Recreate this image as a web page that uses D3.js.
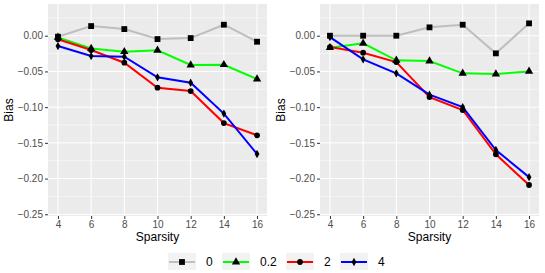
<!DOCTYPE html>
<html>
<head>
<meta charset="utf-8">
<script src="https://cdn.jsdelivr.net/npm/d3@7"></script>
<style>
  body { margin: 0; background: #fff; }
  svg { display: block; font-family: "Liberation Sans", Arial, sans-serif; }
</style>
</head>
<body>
<svg id="chart" width="545" height="273"></svg>
<script>
// sparsity levels on the x axis
const sparsity = [4, 6, 8, 10, 12, 14, 16];
const groups = ["0", "0.2", "2", "4"];

// left panel
const leftBias = {
  "0":   [-0.0014, 0.0135, 0.0093, -0.0047, -0.0033, 0.0154, -0.0084],
  "0.2": [-0.0023, -0.018, -0.0224, -0.0205, -0.041, -0.0406, -0.0607],
  "2":   [-0.005, -0.020, -0.0378, -0.0728, -0.0775, -0.1223, -0.1394],
  "4":   [-0.0145, -0.0285, -0.0294, -0.0583, -0.0658, -0.109, -0.1656]
};
// right panel
const rightBias = {
  "0":   [0.0, 0.0, 0.0, 0.0117, 0.0154, -0.0247, 0.0173],
  "0.2": [-0.0168, -0.0107, -0.0345, -0.0355, -0.0527, -0.0537, -0.050],
  "2":   [-0.0159, -0.0238, -0.0369, -0.0859, -0.104, -0.166, -0.209],
  "4":   [-0.0019, -0.0331, -0.0527, -0.0826, -0.0999, -0.160, -0.198]
};
const yTicks = [0, -0.05, -0.10, -0.15, -0.20, -0.25];

const colors = { "0": "#bebebe", "0.2": "#00ff00", "2": "#ff0000", "4": "#0000ff" };
const shapes = { "0": d3.symbolSquare, "0.2": d3.symbolTriangle, "2": d3.symbolCircle, "4": d3.symbolDiamond };
const shapeSize = { "0": 34, "0.2": 30, "2": 26, "4": 20 };

const svg = d3.select("#chart");

function drawPanel(x0, data) {
  const w = 219, top = 4, bottom = 216;
  const x = d3.scaleLinear().domain([3.4, 16.6]).range([x0, x0 + w]);
  const y = d3.scaleLinear().domain([0.0444, -0.2524]).range([top, bottom]);
  const g = svg.append("g");

  g.append("rect")
    .attr("x", x0).attr("y", top)
    .attr("width", w).attr("height", bottom - top)
    .attr("fill", "#ebebeb");

  // minor horizontal gridlines
  const minor = [0.025, -0.025, -0.075, -0.125, -0.175, -0.225];
  g.selectAll(".minor").data(minor).enter().append("line")
    .attr("x1", x0).attr("x2", x0 + w)
    .attr("y1", d => y(d)).attr("y2", d => y(d))
    .attr("stroke", "#fff").attr("stroke-width", 0.5);

  g.selectAll(".hmaj").data(yTicks).enter().append("line")
    .attr("x1", x0).attr("x2", x0 + w)
    .attr("y1", d => y(d)).attr("y2", d => y(d))
    .attr("stroke", "#fff").attr("stroke-width", 1);

  g.selectAll(".vmaj").data(sparsity).enter().append("line")
    .attr("y1", top).attr("y2", bottom)
    .attr("x1", d => x(d)).attr("x2", d => x(d))
    .attr("stroke", "#fff").attr("stroke-width", 1);

  // axes
  const yAxis = g.append("g")
    .attr("transform", "translate(" + x0 + ",0)")
    .call(d3.axisLeft(y).tickValues(yTicks).tickSize(3).tickPadding(2)
      .tickFormat(d => d3.format(".2f")(d).replace("-", "\u2212")));
  const xAxis = g.append("g")
    .attr("transform", "translate(0," + bottom + ")")
    .call(d3.axisBottom(x).tickValues(sparsity).tickSize(3).tickPadding(2));
  [yAxis, xAxis].forEach(a => {
    a.select(".domain").remove();
    a.selectAll("line").attr("stroke", "#333");
    a.selectAll("text").attr("fill", "#4d4d4d").style("font-size", "10px")
      .style("font-family", "Liberation Sans, Arial, sans-serif");
  });

  // lines and points
  const line = d3.line().x((d, i) => x(sparsity[i])).y(d => y(d));
  groups.forEach(k => {
    g.append("path")
      .attr("d", line(data[k]))
      .attr("fill", "none")
      .attr("stroke", colors[k])
      .attr("stroke-width", 2);
  });
  groups.forEach(k => {
    g.selectAll(null).data(data[k]).enter().append("path")
      .attr("d", d3.symbol().type(shapes[k]).size(shapeSize[k]))
      .attr("transform", (d, i) => "translate(" + x(sparsity[i]) + "," + y(d) + ")")
      .attr("fill", "#000");
  });

  // titles
  g.append("text")
    .text("Sparsity")
    .attr("x", x0 + w / 2).attr("y", 241)
    .attr("text-anchor", "middle")
    .style("font-size", "12px");
  g.append("text")
    .text("Bias")
    .attr("transform", "translate(" + (x0 - 35) + "," + ((top + bottom) / 2) + ") rotate(-90)")
    .attr("text-anchor", "middle")
    .style("font-size", "12px");
}

drawPanel(48, leftBias);
drawPanel(320, rightBias);

// legend
const legend = svg.append("g");
const keyX = [168, 222, 286, 340];
const cy = 262;
groups.forEach((k, i) => {
  const kx = keyX[i];
  legend.append("rect")
    .attr("x", kx).attr("y", cy - 9)
    .attr("width", 28).attr("height", 17)
    .attr("fill", "#f2f2f2");
  legend.append("line")
    .attr("x1", kx + 1).attr("x2", kx + 27)
    .attr("y1", cy).attr("y2", cy)
    .attr("stroke", colors[k]).attr("stroke-width", 2);
  legend.append("path")
    .attr("d", d3.symbol().type(shapes[k]).size(shapeSize[k]))
    .attr("transform", "translate(" + (kx + 14) + "," + cy + ")")
    .attr("fill", "#000");
  legend.append("text")
    .text(k)
    .attr("x", kx + 38).attr("y", cy + 4)
    .style("font-size", "12px");
});
</script>
</body>
</html>
